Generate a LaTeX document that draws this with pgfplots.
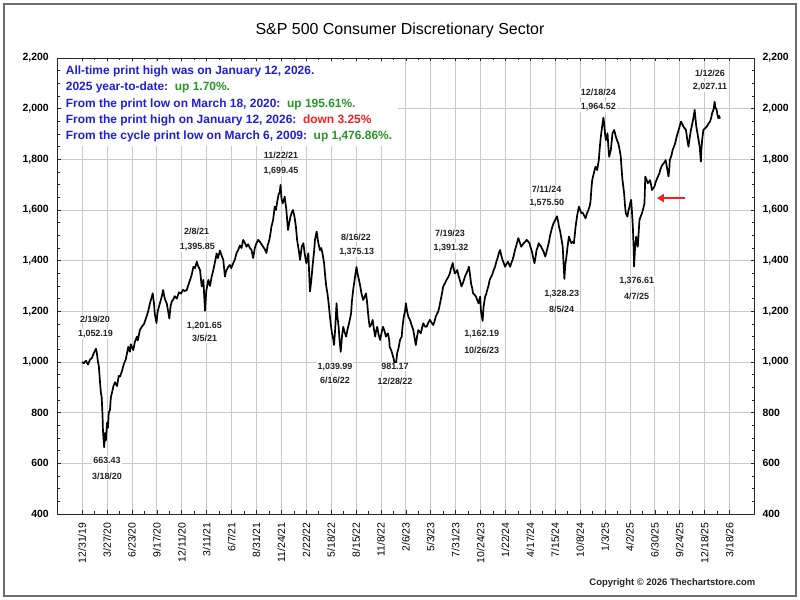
\documentclass[border=0pt]{standalone}
\usepackage{fontspec}
\setmainfont{Liberation Sans}
\usepackage{pgfplots}
\pgfplotsset{compat=1.18}
\usetikzlibrary{arrows.meta}
\definecolor{txtblue}{RGB}{30,30,220}
\definecolor{txtgreen}{RGB}{40,150,40}
\definecolor{txtred}{RGB}{250,30,30}
\definecolor{gridgray}{RGB}{200,200,200}
\definecolor{framegray}{RGB}{110,110,110}
\definecolor{anngray}{RGB}{35,35,35}
\newcommand\ann{\bfseries\fontsize{9}{10}\selectfont}
\begin{document}
\begin{tikzpicture}
\useasboundingbox (0bp,0bp) rectangle (800bp,600bp);
\fill[white] (0bp,0bp) rectangle (800bp,600bp);
\draw[framegray, line width=1.5bp] (4bp,4bp) rectangle (796bp,596bp);
\begin{axis}[
  at={(57.3bp,86bp)}, anchor=south west, scale only axis,
  width=696.7bp, height=456bp,
  xmin=-60, xmax=1619, ymin=400, ymax=2200,
  xtick={0,60,...,1560},
  xticklabels={12/31/19,3/27/20,6/23/20,9/17/20,12/11/20,3/11/21,6/7/21,8/31/21,11/24/21,2/22/22,5/18/22,8/15/22,11/8/22,2/6/23,5/3/23,7/31/23,10/24/23,1/22/24,4/17/24,7/15/24,10/8/24,1/3/25,4/2/25,6/30/25,9/24/25,12/18/25,3/18/26},
  minor x tick num=1,
  ytick={400,600,...,2200}, minor y tick num=3,
  /pgf/number format/assume math mode=true,
  /pgf/number format/1000 sep={,},
  yticklabel style={font=\bfseries\fontsize{10.5}{12}\selectfont, black},
  yticklabel shift=5bp,
  xticklabel style={rotate=90, anchor=east, font=\fontsize{10.5}{12}\selectfont, black},
  xticklabel shift=5bp,
  grid=major,
  major grid style={gridgray, line width=0.8bp},
  axis line style={black!85, line width=0.8bp},
  tick style={black!85, line width=0.6bp},
  major tick length=3.5bp, minor tick length=2.5bp,
  tick align=inside,
  clip=false,
]
\addplot[black, line width=1.7bp, line join=round] coordinates {
(0,1000)(4,995)(9,1005)(14,990)(19,1010)(23,1015)(28,1035)(33,1052)(35,1040)(38,1000)(40,985)(43,920)(45,880)(47,860)(49,790)(50,730)(53,663)(55,720)(57,690)(60,760)(62,740)(64,800)(67,811)(69,860)(72,880)(75,903)(79,920)(84,905)(88,945)(91,942)(96,965)(100,990)(105,1010)(111,1060)(115,1040)(117,1070)(123,1047)(127,1080)(132,1100)(134,1085)(139,1126)(144,1140)(149,1150)(155,1179)(159,1200)(163,1230)(170,1271)(173,1230)(175,1190)(179,1154)(182,1200)(187,1230)(192,1260)(195,1284)(199,1250)(204,1230)(210,1172)(213,1220)(216,1240)(219,1245)(223,1260)(228,1250)(233,1275)(238,1270)(243,1285)(247,1280)(252,1284)(255,1300)(260,1324)(264,1345)(268,1376)(272,1370)(276,1396)(279,1380)(284,1363)(288,1298)(292,1324)(296,1202)(299,1280)(304,1324)(308,1300)(312,1337)(316,1363)(320,1395)(324,1429)(327,1410)(332,1440)(335,1425)(340,1403)(344,1337)(347,1360)(352,1376)(356,1383)(359,1370)(364,1390)(368,1405)(372,1430)(376,1442)(380,1460)(384,1450)(388,1482)(392,1470)(396,1455)(400,1465)(404,1450)(408,1442)(412,1410)(416,1450)(420,1469)(424,1482)(428,1475)(432,1465)(436,1455)(440,1445)(444,1430)(447,1460)(451,1482)(454,1510)(456,1534)(460,1560)(464,1613)(467,1600)(470,1633)(473,1660)(476,1670)(478,1699)(480,1650)(483,1626)(486,1640)(488,1653)(492,1600)(496,1521)(499,1550)(502,1574)(505,1590)(508,1600)(512,1570)(515,1534)(518,1480)(522,1440)(525,1403)(529,1455)(533,1469)(536,1430)(540,1390)(543,1410)(545,1429)(547,1350)(549,1278)(552,1320)(555,1376)(559,1440)(561,1482)(565,1515)(569,1470)(573,1442)(576,1450)(579,1430)(583,1390)(585,1350)(588,1300)(591,1271)(594,1230)(597,1179)(599,1150)(602,1113)(605,1090)(607,1067)(610,1140)(613,1232)(615,1180)(618,1139)(620,1090)(623,1040)(626,1100)(629,1139)(632,1120)(636,1100)(639,1125)(641,1139)(644,1160)(648,1192)(650,1240)(653,1284)(657,1330)(661,1375)(664,1345)(667,1324)(670,1300)(673,1271)(677,1245)(680,1255)(684,1271)(687,1230)(689,1192)(691,1160)(693,1139)(697,1150)(700,1166)(703,1130)(706,1100)(708,1120)(711,1139)(714,1110)(718,1087)(722,1120)(725,1139)(729,1120)(732,1100)(735,1110)(737,1113)(740,1085)(741,1060)(745,1045)(748,1028)(751,1010)(754,981)(757,1005)(759,1034)(763,1060)(766,1087)(770,1100)(772,1140)(775,1179)(778,1200)(780,1232)(783,1200)(786,1179)(790,1166)(794,1145)(798,1126)(801,1095)(804,1067)(807,1100)(810,1126)(813,1120)(816,1113)(819,1135)(822,1153)(826,1140)(830,1139)(834,1155)(838,1166)(842,1155)(846,1146)(849,1160)(852,1179)(855,1190)(858,1199)(861,1220)(864,1245)(867,1270)(870,1298)(874,1310)(878,1324)(882,1335)(886,1350)(889,1370)(893,1391)(895,1370)(898,1350)(901,1355)(904,1363)(907,1340)(910,1324)(914,1298)(917,1310)(920,1324)(923,1340)(926,1350)(930,1365)(932,1376)(935,1340)(937,1311)(940,1290)(942,1271)(946,1265)(949,1258)(952,1245)(955,1232)(957,1245)(959,1258)(961,1200)(965,1162)(967,1215)(971,1258)(974,1270)(976,1284)(979,1300)(982,1324)(985,1335)(988,1344)(991,1360)(995,1376)(998,1395)(1002,1416)(1004,1430)(1007,1442)(1010,1420)(1013,1403)(1016,1390)(1019,1376)(1022,1385)(1026,1396)(1029,1385)(1031,1376)(1034,1390)(1037,1403)(1040,1420)(1043,1442)(1047,1465)(1051,1489)(1055,1470)(1058,1455)(1061,1462)(1064,1469)(1068,1475)(1071,1482)(1075,1475)(1078,1469)(1081,1450)(1084,1435)(1087,1410)(1090,1390)(1093,1420)(1095,1442)(1098,1455)(1100,1469)(1103,1462)(1106,1455)(1109,1445)(1112,1435)(1114,1425)(1116,1416)(1119,1435)(1122,1455)(1125,1475)(1127,1495)(1130,1515)(1133,1534)(1136,1548)(1140,1561)(1144,1575)(1147,1555)(1149,1534)(1152,1515)(1154,1495)(1158,1455)(1160,1390)(1162,1328)(1164,1380)(1167,1416)(1170,1460)(1173,1495)(1176,1480)(1179,1469)(1182,1475)(1185,1469)(1187,1500)(1189,1534)(1193,1580)(1197,1613)(1200,1600)(1203,1587)(1206,1590)(1209,1580)(1213,1567)(1216,1585)(1220,1600)(1223,1615)(1225,1633)(1227,1680)(1229,1718)(1233,1745)(1237,1771)(1241,1758)(1245,1797)(1247,1840)(1249,1876)(1251,1905)(1253,1929)(1256,1964.5)(1258,1940)(1260,1900)(1262,1876)(1264,1890)(1266,1903)(1268,1850)(1270,1810)(1272,1825)(1274,1837)(1276,1870)(1278,1903)(1282,1916)(1286,1890)(1289,1875)(1292,1863)(1295,1840)(1298,1810)(1300,1760)(1302,1718)(1306,1666)(1308,1620)(1310,1587)(1312,1580)(1314,1574)(1316,1595)(1319,1613)(1321,1630)(1323,1640)(1325,1590)(1327,1534)(1329,1450)(1330,1377)(1332,1440)(1335,1495)(1337,1470)(1339,1455)(1341,1510)(1343,1561)(1346,1575)(1349,1587)(1352,1605)(1355,1626)(1357,1732)(1360,1720)(1363,1705)(1366,1712)(1368,1718)(1371,1700)(1373,1679)(1376,1686)(1379,1692)(1381,1705)(1384,1718)(1387,1730)(1391,1745)(1393,1758)(1396,1771)(1398,1778)(1401,1784)(1404,1790)(1406,1797)(1409,1770)(1411,1750)(1413,1732)(1415,1765)(1416,1797)(1420,1815)(1423,1837)(1426,1850)(1429,1863)(1432,1885)(1435,1903)(1439,1925)(1443,1949)(1446,1940)(1449,1929)(1452,1922)(1455,1916)(1458,1880)(1461,1850)(1464,1885)(1467,1916)(1472,1955)(1476,1995)(1478,1960)(1480,1929)(1482,1910)(1484,1890)(1486,1870)(1488,1850)(1491,1791)(1492,1835)(1494,1876)(1497,1916)(1501,1922)(1505,1929)(1509,1940)(1513,1949)(1516,1965)(1518,1982)(1522,2000)(1524,2027)(1526,2005)(1529,1995)(1531,1975)(1533,1962)(1535,1972)(1537,1961)
};
\draw[txtred, line width=2.2bp, -{Triangle[length=7bp,width=8bp]}] (axis cs:1452,1647) -- (axis cs:1385,1647);
\end{axis}
\begin{axis}[
  at={(57.3bp,86bp)}, anchor=south west, scale only axis,
  width=696.7bp, height=456bp,
  xmin=-60, xmax=1619, ymin=400, ymax=2200,
  hide x axis,
  axis y line*=right,
  axis line style={draw=none},
  ytick={400,600,...,2200},
  major tick length=0pt, minor y tick num=0,
  /pgf/number format/assume math mode=true,
  /pgf/number format/1000 sep={,},
  yticklabel style={font=\bfseries\fontsize{10.5}{12}\selectfont, black},
  yticklabel shift=5bp,
]
\end{axis}
% white box behind the text block
\fill[white] (62bp,454bp) rectangle (398bp,537.5bp);
\begin{scope}[every node/.style={anchor=west, inner sep=0pt, text=txtblue, font=\bfseries\fontsize{12}{14}\selectfont}]
\node at (65.7bp,529bp) {All-time print high was on January 12, 2026.};
\node at (65.7bp,512.5bp) {2025 year-to-date:\ \ \textcolor{txtgreen}{up 1.70\%.}};
\node at (65.7bp,496bp) {From the print low on March 18, 2020:\ \ \textcolor{txtgreen}{up 195.61\%.}};
\node at (65.7bp,480bp) {From the print high on January 12, 2026:\ \ \textcolor{txtred}{down 3.25\%}};
\node at (65.7bp,463.5bp) {From the cycle print low on March 6, 2009:\ \ \textcolor{txtgreen}{up 1,476.86\%.}};
\end{scope}
% title
\node[font=\fontsize{16}{18}\selectfont, text=black] at (400bp,570bp) {S\&P 500 Consumer Discretionary Sector};
% annotations
\begin{scope}[every node/.style={fill=white, inner sep=1bp, text=anngray, font=\ann}]
\node at (95bp,281bp) {2/19/20};
\node at (95.5bp,266bp) {1,052.19};
\node at (107bp,140bp) {663.43};
\node at (107bp,124bp) {3/18/20};
\node at (196.7bp,368.3bp) {2/8/21};
\node at (197.3bp,353.3bp) {1,395.85};
\node at (204.3bp,274.3bp) {1,201.65};
\node at (204.7bp,261.7bp) {3/5/21};
\node at (281bp,445bp) {11/22/21};
\node at (281bp,429.3bp) {1,699.45};
\node at (356bp,362.7bp) {8/16/22};
\node at (356.7bp,347.7bp) {1,375.13};
\node at (335bp,233.3bp) {1,039.99};
\node at (335bp,220bp) {6/16/22};
\node at (395bp,233.3bp) {981.17};
\node at (395bp,219bp) {12/28/22};
\node at (450bp,366.7bp) {7/19/23};
\node at (451bp,351.7bp) {1,391.32};
\node at (481.7bp,266bp) {1,162.19};
\node at (481.7bp,250bp) {10/26/23};
\node at (546.7bp,411bp) {7/11/24};
\node at (546.7bp,396.7bp) {1,575.50};
\node at (561.7bp,306bp) {1,328.23};
\node at (561.7bp,291bp) {8/5/24};
\node at (598.3bp,507.7bp) {12/18/24};
\node at (598.3bp,493.3bp) {1,964.52};
\node at (636.7bp,319.3bp) {1,376.61};
\node at (636.7bp,303.3bp) {4/7/25};
\node at (710bp,526.7bp) {1/12/26};
\node at (710bp,513.3bp) {2,027.11};
\end{scope}
\node[anchor=east, inner sep=0pt, font=\bfseries\fontsize{9.5}{11}\selectfont, text=anngray] at (755.5bp,17bp) {Copyright \textcopyright{} 2026 Thechartstore.com};
\end{tikzpicture}
\end{document}
